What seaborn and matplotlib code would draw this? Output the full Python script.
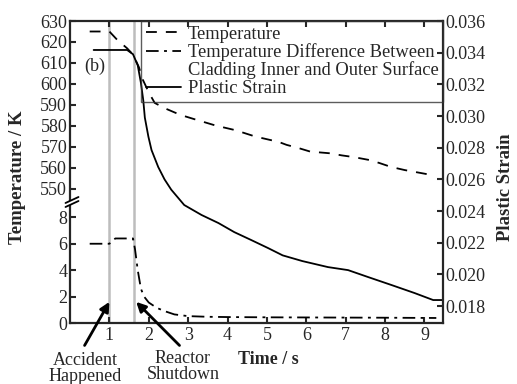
import matplotlib
matplotlib.use("Agg")
import matplotlib.pyplot as plt
from matplotlib.lines import Line2D
from matplotlib.patches import Polygon
import pandas as pd
import seaborn as sns

# Cladding temperature (K) after the accident
time_temp = [0.5, 1.0, 1.2, 1.45, 1.6, 1.75, 1.85, 2.0, 2.15, 2.4, 2.8, 3.2, 3.7,
             4.2, 4.7, 5.3, 5.5, 5.8, 6.1, 6.6, 6.9, 7.2, 7.6, 7.85, 8.15, 8.5, 9.2]
temperature = [625, 625, 621, 617, 614, 608, 602, 596, 591, 588.5, 585.3, 583, 580.2,
               578, 575, 572.4, 571, 569.5, 567.8, 567, 566, 565.2, 563.8, 562.4, 560.5, 559, 556.6]

# Temperature difference between cladding inner and outer surface (K)
time_dtemp = [0.5, 1.0, 1.15, 1.6, 1.65, 1.72, 1.8, 1.88, 2.0, 2.2, 2.4, 2.65, 3.0,
              3.5, 4.0, 5.0, 6.0, 7.0, 8.0, 9.3]
temp_difference = [6.0, 6.0, 6.4, 6.4, 5.6, 4.0, 2.6, 2.0, 1.55, 1.15, 0.9, 0.65, 0.52,
                   0.47, 0.45, 0.43, 0.42, 0.41, 0.40, 0.38]

# Cladding plastic strain
time_strain = [0.6, 1.45, 1.6, 1.72, 1.8, 1.86, 1.9, 1.99, 2.07, 2.24, 2.4, 2.57, 2.9,
               3.34, 3.77, 4.17, 4.6, 5.03, 5.4, 5.9, 6.55, 7.06, 7.57, 8.16, 8.75, 9.22, 9.45]
plastic_strain = [0.03417, 0.03417, 0.0339, 0.0332, 0.0321, 0.0310, 0.0299, 0.0287, 0.02785,
                  0.02678, 0.0260, 0.02535, 0.02438, 0.02375, 0.02324, 0.02267, 0.02217,
                  0.02166, 0.0212, 0.02084, 0.02046, 0.02027, 0.01983, 0.01933, 0.01882,
                  0.01838, 0.01838]

accident_time = 1.0
shutdown_time = 1.62

time_ticks = [1, 2, 3, 4, 5, 6, 7, 8, 9]
upper_ticks = [550, 560, 570, 580, 590, 600, 610, 620, 630]
lower_ticks = [0, 2, 4, 6, 8]
strain_ticks = [0.018, 0.020, 0.022, 0.024, 0.026, 0.028, 0.030, 0.032, 0.034, 0.036]

legend_labels = ["Temperature", "Temperature Difference Between",
                 "Cladding Inner and Outer Surface", "Plastic Strain"]

sns.set_style("ticks")
plt.rcParams["font.family"] = ["Liberation Serif", "DejaVu Serif"]
plt.rcParams.update({
    "font.size": 13,
    "axes.linewidth": 1.6,
    "xtick.direction": "in",
    "ytick.direction": "in",
    "xtick.major.width": 1.5,
    "ytick.major.width": 1.5,
    "xtick.major.size": 4,
    "ytick.major.size": 4,
    "xtick.labelsize": 13,
    "ytick.labelsize": 13,
    "xtick.major.pad": 3,
    "ytick.major.pad": 2,
})

W, H = 517, 384
fig = plt.figure(figsize=(W / 100, H / 100), dpi=100, facecolor="white")
x_left, x_right = 70, 443
y_top, y_break, y_bottom = 21, 202, 323


def box(l, t, r, b):
    return [l / W, 1 - b / H, (r - l) / W, (b - t) / H]


ax_s = fig.add_axes(box(x_left, y_top, x_right, y_bottom))
ax_lo = fig.add_axes(box(x_left, y_break, x_right, y_bottom), sharex=ax_s)
ax_hi = fig.add_axes(box(x_left, y_top, x_right, y_break), sharex=ax_s)
for a in (ax_s, ax_lo, ax_hi):
    a.patch.set_visible(False)
ax_s.set_zorder(0)
ax_lo.set_zorder(1)
ax_hi.set_zorder(2)

lw = 1.3
dash_t = (0, (6, 5))
dash_dot = (0, (7, 3, 1.6, 3))

df_t = pd.DataFrame({"time": time_temp, "T": temperature})
df_d = pd.DataFrame({"time": time_dtemp, "dT": temp_difference})
df_s = pd.DataFrame({"time": time_strain, "strain": plastic_strain})

sns.lineplot(data=df_t, x="time", y="T", ax=ax_hi, color="black", lw=lw, linestyle=dash_t)
sns.lineplot(data=df_d, x="time", y="dT", ax=ax_lo, color="black", lw=lw, linestyle=dash_dot)
sns.lineplot(data=df_s, x="time", y="strain", ax=ax_s, color="black", lw=lw)

for t in (accident_time, shutdown_time):
    ax_s.axvline(t, color="#bdbdbd", lw=1.8, zorder=0)

ax_s.set_xlim(0, 9.47)
ax_s.set_ylim(0.01693, 0.036)
ax_hi.set_ylim(543.8, 630)
ax_lo.set_ylim(0, 9.16)

# strain axis: right spine only
ax_s.yaxis.tick_right()
ax_s.set_yticks(strain_ticks)
ax_s.set_yticklabels([f"{v:.3f}" for v in strain_ticks])
for side in ("left", "top", "bottom"):
    ax_s.spines[side].set_visible(False)
ax_s.tick_params(axis="x", bottom=False, top=False, labelbottom=False)
ax_s.set_xlabel("")
ax_s.set_ylabel("")

# upper temperature segment
ax_hi.set_yticks(upper_ticks)
for side in ("right", "bottom"):
    ax_hi.spines[side].set_visible(False)
ax_hi.tick_params(axis="x", bottom=False, top=True, labelbottom=False, labeltop=False)
ax_hi.set_xlabel("")
ax_hi.set_ylabel("")

# lower temperature-difference segment
ax_lo.set_yticks(lower_ticks)
for side in ("right", "top"):
    ax_lo.spines[side].set_visible(False)
ax_lo.set_xticks(time_ticks)
ax_lo.tick_params(axis="x", bottom=True, top=False, labelbottom=True)
ax_lo.set_xlabel("")
ax_lo.set_ylabel("")

# axis break marks on the left spine
xb = (x_left + 2) / W
yb = 1 - y_break / H
dx, dy = 6.5 / W, 3 / H
gap = 4 / H
fig.add_artist(Polygon([(xb - dx, yb - gap / 2 - dy), (xb + dx, yb - gap / 2 + dy),
                        (xb + dx, yb + gap / 2 + dy), (xb - dx, yb + gap / 2 - dy)],
                       closed=True, facecolor="white", edgecolor="none",
                       transform=fig.transFigure, zorder=10))
for off in (-gap / 2, gap / 2):
    fig.add_artist(Line2D([xb - dx, xb + dx], [yb + off - dy, yb + off + dy],
                          color="black", lw=1.3, transform=fig.transFigure, zorder=11))

# legend (the two-line entry keeps its line style next to the first line)
handles = [Line2D([], [], color="black", lw=lw, linestyle=dash_t),
           Line2D([], [], color="black", lw=lw, linestyle=dash_dot),
           Line2D([], [], color="none", lw=lw),
           Line2D([], [], color="black", lw=lw)]
leg = ax_hi.legend(handles, legend_labels, loc="upper right", bbox_to_anchor=(1, 1),
                   borderaxespad=0, fancybox=False, frameon=True, edgecolor="#333333",
                   facecolor="none", fontsize=13.3, handlelength=1.9,
                   handletextpad=0.35, labelspacing=0.03, borderpad=0.25)
leg.get_frame().set_linewidth(1.0)

ax_hi.text((95 - x_left) / (x_right - x_left), 1 - (66 - y_top) / (y_break - y_top), "(b)",
           ha="center", va="center", fontsize=13, transform=ax_hi.transAxes)

# event annotations
arrow = dict(arrowstyle="-|>", color="black", lw=2.0, mutation_scale=14, shrinkA=0, shrinkB=0)
ax_lo.annotate("", xy=(accident_time, 1.6), xytext=(0.37, -1.7), arrowprops=arrow,
               annotation_clip=False)
ax_lo.annotate("", xy=(shutdown_time + 0.06, 1.6), xytext=(2.78, -1.7), arrowprops=arrow,
               annotation_clip=False)
fig.text(85 / W, 1 - 352 / H, "Accident\nHappened", ha="center", va="top",
         fontsize=13, linespacing=0.95)
fig.text(183 / W, 1 - 350 / H, "Reactor\nShutdown", ha="center", va="top",
         fontsize=13, linespacing=0.95)

fig.text(268 / W, 1 - 359 / H, "Time / s", ha="center", va="center",
         fontsize=13, fontweight="bold")
fig.text(18 / W, 1 - 177 / H, "Temperature / K", ha="center", va="center",
         rotation=90, fontsize=13.5, fontweight="bold")
fig.text(505 / W, 1 - 187 / H, "Plastic Strain", ha="center", va="center",
         rotation=90, fontsize=13.5, fontweight="bold")

fig.savefig("out.png", dpi=100, facecolor="white")
